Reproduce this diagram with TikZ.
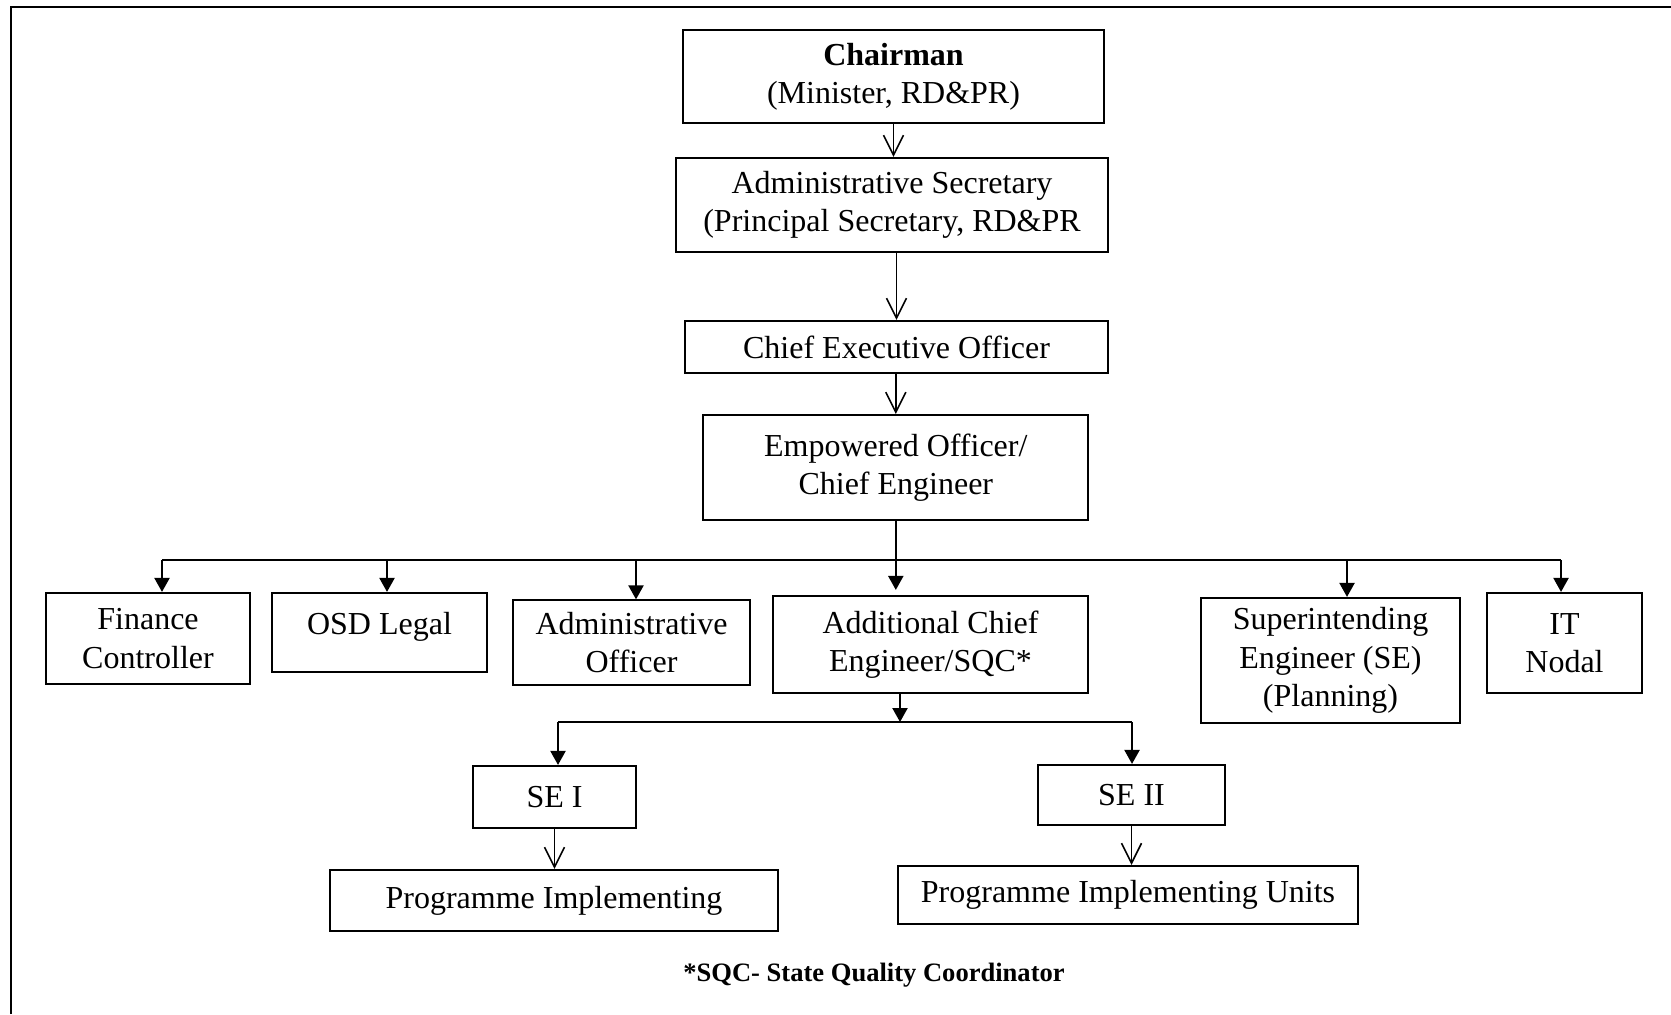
\documentclass[tikz,border=0pt]{standalone}
\usepackage{fontspec}
\setmainfont{Liberation Serif}
\usetikzlibrary{arrows.meta}

\begin{document}
\begin{tikzpicture}[x=0.01cm, y=-0.01cm,
	box/.style={draw, line width=0.6pt, align=center, inner sep=0pt, font=\fontsize{9.1}{10.9}\selectfont},
	openarr/.style={line width=0.45pt, -{Straight Barb[length=2mm, width=2mm, line width=0.45pt]}},
	fillarr/.style={line width=0.6pt, -{Triangle[length=1.4mm, width=1.5mm]}}]
		\useasboundingbox (0,0) rectangle (1671,1014);
		\draw[line width=0.7pt] (11,1014) -- (11,7) -- (1671,7);

		% top chain
		\node[box, minimum width=4.21cm, minimum height=0.93cm] (chair) at (893.5,76.5) {\textbf{Chairman}\\(Minister, RD\&PR)};
		\node[box, minimum width=4.32cm, minimum height=0.94cm] (adsec) at (892,205) {Administrative Secretary\\(Principal Secretary, RD\&PR};
		\node[box, minimum width=4.23cm, minimum height=0.52cm] (ceo) at (896.5,347) {Chief Executive Officer};
		\node[box, minimum width=3.85cm, minimum height=1.05cm] (empw) at (895.8,467.5) {Empowered Officer/\\Chief Engineer};

		% second row
		\node[box, minimum width=2.04cm, minimum height=0.91cm] (fin) at (148,638.5) {Finance\\Controller};
		\node[box, text depth=0.19cm, minimum width=2.15cm, minimum height=0.79cm] (osd) at (379.5,632.5) {OSD Legal};
		\node[box, line width=0.35pt, minimum width=2.37cm, minimum height=0.85cm] (adof) at (631.5,642.5) {Administrative\\Officer};
		\node[box, minimum width=3.15cm, minimum height=0.97cm] (ace) at (930.5,644.5) {Additional Chief\\Engineer/SQC*};
		\node[box, minimum width=2.59cm, minimum height=1.25cm] (sep) at (1330.5,660.5) {Superintending\\Engineer (SE)\\(Planning)};
		\node[box, minimum width=1.55cm, minimum height=1cm] (itn) at (1564.5,643) {IT\\Nodal};

		% lower rows
		\node[box, minimum width=1.63cm, minimum height=0.62cm] (se1) at (554.5,797) {SE I};
		\node[box, minimum width=1.87cm, minimum height=0.6cm] (se2) at (1131.5,795) {SE II};
		\node[box, minimum width=4.48cm, minimum height=0.61cm] (pi) at (554,900.5) {Programme Implementing};
		\node[box, minimum width=4.6cm, minimum height=0.58cm] (piu) at (1128,895) {Programme Implementing Units};
		\node[font=\bfseries\fontsize{7.55}{9}\selectfont] (note) at (874,975) {*SQC- State Quality Coordinator};

		\draw[openarr] (chair.south) -- (chair.south |- adsec.north);
		\draw[openarr] (ceo.north |- adsec.south) -- (ceo.north);
		\draw[openarr] (empw.north |- ceo.south) -- (empw.north);

		% bus
		\coordinate (busl) at (162,560);
		\coordinate (busr) at (1561,560);
		\draw[line width=0.6pt] (busl) -- (busr);
		\draw[fillarr, shorten >=0.05cm] (empw.south) -- (empw.south |- ace.north);
		\foreach \n/\x in {fin/162, osd/387, adof/636, sep/1347, itn/1561}
			{\coordinate (b\n) at (\x,560);
			 \draw[fillarr] (b\n) -- (b\n |- \n.north);}

		\coordinate (sub) at (900,722);
		\coordinate (subl) at (558,722);
		\coordinate (subr) at (1132,722);
		\draw[fillarr] (sub |- ace.south) -- (sub);
		\draw[line width=0.6pt] (subl) -- (subr);
		\draw[fillarr] (subl) -- (subl |- se1.north);
		\draw[fillarr] (subr) -- (subr |- se2.north);

		\draw[openarr] (se1.south) -- (se1.south |- pi.north);
		\draw[openarr] (se2.south) -- (se2.south |- piu.north);
\end{tikzpicture}
\end{document}
